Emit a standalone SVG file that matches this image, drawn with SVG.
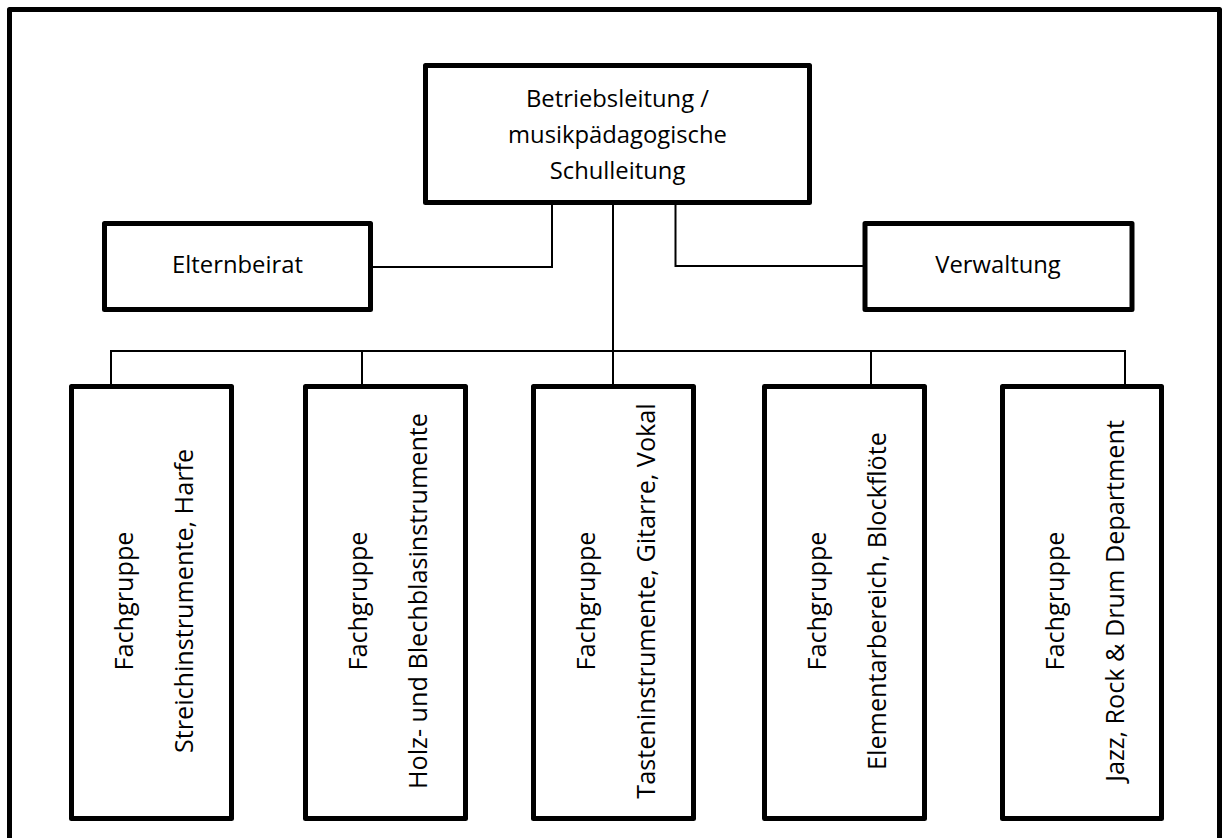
<svg xmlns="http://www.w3.org/2000/svg" width="1223" height="838" viewBox="0 0 1223 838">
<style>
.box{fill:#fff;stroke:#000;stroke-width:5;stroke-linejoin:round}
.frame{fill:#fff;stroke:#000;stroke-width:5;stroke-linejoin:round}
.conn{fill:none;stroke:#000;stroke-width:2}
text{font-family:"Open Sans",Lato,"Liberation Sans",sans-serif;font-size:23.8px;fill:#000;text-anchor:middle}
.v text{font-size:25.2px}
</style>
<rect class="frame" x="9.5" y="9.5" width="1210" height="900"/>
<g id="connectors">
<polyline class="conn" points="373,267 552,267 552,204"/>
<polyline class="conn" points="675.5,204 675.5,266 864,266"/>
<line class="conn" x1="613" y1="204" x2="613" y2="351"/>
<line class="conn" x1="110" y1="351" x2="1126" y2="351"/>
<line class="conn" x1="111" y1="350" x2="111" y2="385"/>
<line class="conn" x1="362" y1="350" x2="362" y2="385"/>
<line class="conn" x1="613" y1="350" x2="613" y2="385"/>
<line class="conn" x1="871" y1="350" x2="871" y2="385"/>
<line class="conn" x1="1125" y1="350" x2="1125" y2="385"/>
</g>
<g id="leitung">
<rect class="box" x="425.5" y="65.5" width="384" height="137"/>
<text x="617.5" y="107">Betriebsleitung /</text>
<text x="617.5" y="143">musikpädagogische</text>
<text x="617.5" y="179">Schulleitung</text>
</g>
<g id="elternbeirat">
<rect class="box" x="104.5" y="223.5" width="266" height="86"/>
<text x="237.5" y="273">Elternbeirat</text>
</g>
<g id="verwaltung">
<rect class="box" x="865" y="223.5" width="267" height="86"/>
<text x="998" y="273">Verwaltung</text>
</g>
<g id="fg1">
<rect class="box" x="71.5" y="386.5" width="160" height="432"/>
<g class="v" transform="translate(151.5,601) rotate(-90)">
<text x="0" y="-18.5">Fachgruppe</text>
<text x="0" y="41.5">Streichinstrumente, Harfe</text>
</g>
</g>
<g id="fg2">
<rect class="box" x="305.5" y="386.5" width="160" height="432"/>
<g class="v" transform="translate(385.5,601) rotate(-90)">
<text x="0" y="-18.5">Fachgruppe</text>
<text x="0" y="41.5">Holz- und Blechblasinstrumente</text>
</g>
</g>
<g id="fg3">
<rect class="box" x="533.5" y="386.5" width="160" height="432"/>
<g class="v" transform="translate(613.5,601) rotate(-90)">
<text x="0" y="-18.5">Fachgruppe</text>
<text x="0" y="41.5">Tasteninstrumente, Gitarre, Vokal</text>
</g>
</g>
<g id="fg4">
<rect class="box" x="764.5" y="386.5" width="160" height="432"/>
<g class="v" transform="translate(844.5,601) rotate(-90)">
<text x="0" y="-18.5">Fachgruppe</text>
<text x="0" y="41.5">Elementarbereich, Blockflöte</text>
</g>
</g>
<g id="fg5">
<rect class="box" x="1002.5" y="386.5" width="159" height="432"/>
<g class="v" transform="translate(1082,601) rotate(-90)">
<text x="0" y="-18.5">Fachgruppe</text>
<text x="0" y="41.5">Jazz, Rock &amp; Drum Department</text>
</g>
</g>
</svg>
